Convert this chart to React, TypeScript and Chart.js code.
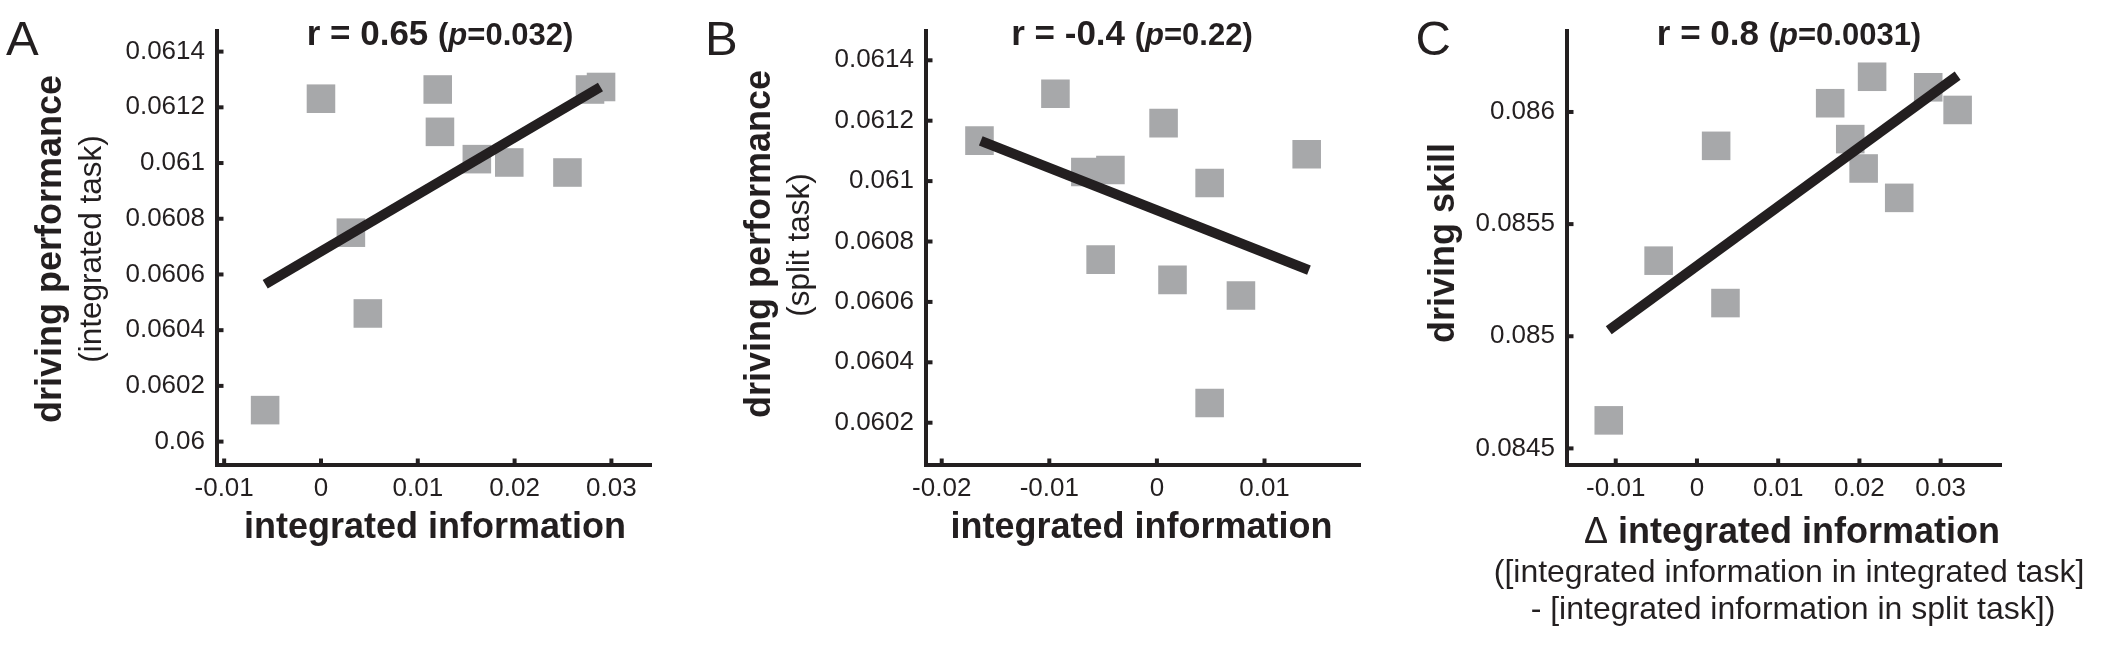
import React, { useEffect, useRef } from 'react';
import { Chart, registerables } from 'chart.js';

Chart.register(...registerables);

// ---------- data ----------
// Panel A: integrated task
const aIntegratedInfo = [0.0, 0.01206, 0.01229, 0.0161, 0.01945, 0.02546, 0.02779, 0.02893, 0.00309, 0.00484, -0.00577];
const aDrivingPerf = [0.061231, 0.061264, 0.061112, 0.061014, 0.061002, 0.060966, 0.061264, 0.061273, 0.06075, 0.06046, 0.060113];
const aFitX = [-0.00576, 0.02887];
const aFitY = [0.060565, 0.061273];
const aXTicks = [-0.01, 0, 0.01, 0.02, 0.03];
const aXTickLabels = ['-0.01', '0', '0.01', '0.02', '0.03'];
const aYTicks = [0.06, 0.0602, 0.0604, 0.0606, 0.0608, 0.061, 0.0612, 0.0614];
const aYTickLabels = ['0.06', '0.0602', '0.0604', '0.0606', '0.0608', '0.061', '0.0612', '0.0614'];

// Panel B: split task
const bIntegratedInfo = [-0.01649, -0.00943, 0.00062, -0.00665, -0.00432, 0.0049, 0.01392, -0.00523, 0.00145, 0.00781, 0.0049];
const bDrivingPerf = [0.061134, 0.061289, 0.061192, 0.06103, 0.061037, 0.060994, 0.061089, 0.06074, 0.060673, 0.060621, 0.060265];
const bFitX = [-0.01637, 0.01413];
const bFitY = [0.061133, 0.060705];
const bXTicks = [-0.02, -0.01, 0, 0.01];
const bXTickLabels = ['-0.02', '-0.01', '0', '0.01'];
const bYTicks = [0.0602, 0.0604, 0.0606, 0.0608, 0.061, 0.0612, 0.0614];
const bYTickLabels = ['0.0602', '0.0604', '0.0606', '0.0608', '0.061', '0.0612', '0.0614'];

// Panel C: delta integrated information vs driving skill
const cDeltaInfo = [-0.01086, -0.00472, 0.00236, 0.00351, 0.0164, 0.02156, 0.02847, 0.03209, 0.01887, 0.02052, 0.0249];
const cDrivingSkill = [0.084625, 0.085337, 0.085849, 0.085148, 0.086039, 0.086157, 0.08611, 0.086009, 0.085879, 0.085748, 0.085617];
const cFitX = [-0.01086, 0.03209];
const cFitY = [0.085027, 0.086162];
const cXTicks = [-0.01, 0, 0.01, 0.02, 0.03];
const cXTickLabels = ['-0.01', '0', '0.01', '0.02', '0.03'];
const cYTicks = [0.0845, 0.085, 0.0855, 0.086];
const cYTickLabels = ['0.0845', '0.085', '0.0855', '0.086'];

// ---------- styles ----------
const INK = '#231f20';
const GREY = '#a7a8aa';
const FAMILY = "'Liberation Sans', Arial, Helvetica, sans-serif";
const f = (size: number, weight = 'normal', style = 'normal') => `${style} ${weight} ${size}px ${FAMILY}`;

type Run = { text: string; font: string };

interface PanelCfg {
  left: number;
  width: number;
  axisLeft: number;
  axisRight: number;
  xMin: number; xMax: number; yMin: number; yMax: number;
  xs: number[]; ys: number[]; fitX: number[]; fitY: number[];
  xTicks: number[]; xTickLabels: string[]; yTicks: number[]; yTickLabels: string[];
  letter: string; letterX: number;
  title: Run[]; titleX: number;
  yLabels: { runs: Run[]; x: number; cy: number }[];
  xLabels: { runs: Run[]; cx: number; y: number }[];
}

const TOP = 31;
const BOTTOM = 465;
const H = 655;

const titleRuns = (r: string, p: string): Run[] => [
  { text: `r = ${r} `, font: f(35, 'bold') },
  { text: '(', font: f(31, 'bold') },
  { text: 'p', font: f(31, 'bold', 'italic') },
  { text: `=${p})`, font: f(31, 'bold') },
];

const panels: PanelCfg[] = [
  {
    left: 0, width: 700, axisLeft: 217, axisRight: 651,
    xMin: -0.01074, xMax: 0.03409, yMin: 0.059916, yMax: 0.061474,
    xs: aIntegratedInfo, ys: aDrivingPerf, fitX: aFitX, fitY: aFitY,
    xTicks: aXTicks, xTickLabels: aXTickLabels, yTicks: aYTicks, yTickLabels: aYTickLabels,
    letter: 'A', letterX: 6,
    title: titleRuns('0.65', '0.032'), titleX: 440,
    yLabels: [
      { runs: [{ text: 'driving performance', font: f(36, 'bold') }], x: 61, cy: 249 },
      { runs: [{ text: '(integrated task)', font: f(31.5) }], x: 100.5, cy: 249 },
    ],
    xLabels: [{ runs: [{ text: 'integrated information', font: f(36, 'bold') }], cx: 435, y: 538 }],
  },
  {
    left: 700, width: 700, axisLeft: 226, axisRight: 660.7,
    xMin: -0.02146, xMax: 0.01894, yMin: 0.06006, yMax: 0.061497,
    xs: bIntegratedInfo, ys: bDrivingPerf, fitX: bFitX, fitY: bFitY,
    xTicks: bXTicks, xTickLabels: bXTickLabels, yTicks: bYTicks, yTickLabels: bYTickLabels,
    letter: 'B', letterX: 5,
    title: titleRuns('-0.4', '0.22'), titleX: 432,
    yLabels: [
      { runs: [{ text: 'driving performance', font: f(36, 'bold') }], x: 70, cy: 244 },
      { runs: [{ text: '(split task)', font: f(31.5) }], x: 108.5, cy: 245 },
    ],
    xLabels: [{ runs: [{ text: 'integrated information', font: f(36, 'bold') }], cx: 441.5, y: 538 }],
  },
  {
    left: 1400, width: 701, axisLeft: 167, axisRight: 601,
    xMin: -0.016, xMax: 0.03743, yMin: 0.084426, yMax: 0.086361,
    xs: cDeltaInfo, ys: cDrivingSkill, fitX: cFitX, fitY: cFitY,
    xTicks: cXTicks, xTickLabels: cXTickLabels, yTicks: cYTicks, yTickLabels: cYTickLabels,
    letter: 'C', letterX: 15.5,
    title: titleRuns('0.8', '0.0031'), titleX: 389,
    yLabels: [{ runs: [{ text: 'driving skill', font: f(36, 'bold') }], x: 54, cy: 243 }],
    xLabels: [
      { runs: [{ text: '\u0394 ', font: f(36) }, { text: 'integrated information', font: f(36, 'bold') }], cx: 392, y: 543 },
      { runs: [{ text: '([integrated information in integrated task]', font: f(32) }], cx: 389, y: 582 },
      { runs: [{ text: '- [integrated information in split task])', font: f(32) }], cx: 393, y: 619 },
    ],
  },
];

function runsWidth(ctx: CanvasRenderingContext2D, runs: Run[]) {
  let w = 0;
  for (const r of runs) { ctx.font = r.font; w += ctx.measureText(r.text).width; }
  return w;
}

function drawRuns(ctx: CanvasRenderingContext2D, runs: Run[], cx: number, baseline: number) {
  const total = runsWidth(ctx, runs);
  let x = cx - total / 2;
  ctx.textAlign = 'left';
  ctx.textBaseline = 'alphabetic';
  for (const r of runs) {
    ctx.font = r.font;
    ctx.fillText(r.text, x, baseline);
    x += ctx.measureText(r.text).width;
  }
}

function makeDecor(cfg: PanelCfg) {
  return {
    id: 'decor' + cfg.letter,
    afterDraw(chart: any) {
      const ctx: CanvasRenderingContext2D = chart.ctx;
      const area = chart.chartArea;
      const xs = chart.scales.x;
      const ys = chart.scales.y;
      ctx.save();
      // inward tick marks
      ctx.strokeStyle = INK;
      ctx.lineWidth = 4;
      ctx.lineCap = 'butt';
      for (const t of xs.ticks) {
        const px = xs.getPixelForValue(t.value);
        ctx.beginPath();
        ctx.moveTo(px, area.bottom);
        ctx.lineTo(px, area.bottom - 6.5);
        ctx.stroke();
      }
      for (const t of ys.ticks) {
        const py = ys.getPixelForValue(t.value);
        ctx.beginPath();
        ctx.moveTo(area.left, py);
        ctx.lineTo(area.left + 6.5, py);
        ctx.stroke();
      }
      ctx.fillStyle = INK;
      // panel letter
      ctx.font = f(49);
      ctx.textAlign = 'left';
      ctx.textBaseline = 'alphabetic';
      ctx.fillText(cfg.letter, cfg.letterX, 55);
      // title
      drawRuns(ctx, cfg.title, cfg.titleX, 45);
      // y labels (rotated)
      for (const yl of cfg.yLabels) {
        ctx.save();
        ctx.translate(yl.x, yl.cy);
        ctx.rotate(-Math.PI / 2);
        drawRuns(ctx, yl.runs, 0, 0);
        ctx.restore();
      }
      // x labels
      for (const xl of cfg.xLabels) drawRuns(ctx, xl.runs, xl.cx, xl.y);
      ctx.restore();
    },
  };
}

function Panel({ cfg }: { cfg: PanelCfg }) {
  const ref = useRef<HTMLCanvasElement | null>(null);
  useEffect(() => {
    if (!ref.current) return;
    const points = cfg.xs.map((x, i) => ({ x, y: cfg.ys[i] }));
    const fit = cfg.fitX.map((x, i) => ({ x, y: cfg.fitY[i] }));
    const tickFont = { family: FAMILY, size: 26, weight: 'normal' as const };
    const chart = new Chart(ref.current, {
      type: 'scatter',
      data: {
        datasets: [
          {
            type: 'line',
            data: fit,
            borderColor: INK,
            borderWidth: 10,
            borderCapStyle: 'butt',
            pointRadius: 0,
            pointHoverRadius: 0,
            showLine: true,
            fill: false,
            tension: 0,
            order: 0,
          } as any,
          {
            type: 'scatter',
            data: points,
            pointStyle: 'rect',
            pointRadius: 20.2,
            pointHoverRadius: 20.2,
            pointBackgroundColor: GREY,
            pointBorderColor: GREY,
            pointBorderWidth: 0,
            pointHoverBorderWidth: 0,
            order: 1,
          } as any,
        ],
      },
      options: {
        animation: false,
        responsive: false,
        maintainAspectRatio: false,
        devicePixelRatio: 1,
        events: [],
        layout: { padding: { left: 0, top: TOP, right: cfg.width - cfg.axisRight, bottom: 0 } },
        plugins: { legend: { display: false }, tooltip: { enabled: false }, title: { display: false } },
        scales: {
          x: {
            type: 'linear',
            min: cfg.xMin,
            max: cfg.xMax,
            afterFit: (s: any) => { s.height = H - BOTTOM; },
            afterBuildTicks: (s: any) => { s.ticks = cfg.xTicks.map((v) => ({ value: v })); },
            ticks: {
              callback: (_v: any, i: number) => cfg.xTickLabels[i],
              font: tickFont,
              color: INK,
              padding: 8,
              autoSkip: false,
              maxRotation: 0,
              minRotation: 0,
            },
            grid: { display: false, drawTicks: false },
            border: { display: true, width: 4, color: INK },
          },
          y: {
            type: 'linear',
            min: cfg.yMin,
            max: cfg.yMax,
            afterFit: (s: any) => { s.width = cfg.axisLeft; },
            afterBuildTicks: (s: any) => { s.ticks = cfg.yTicks.map((v) => ({ value: v })); },
            ticks: {
              callback: (_v: any, i: number) => cfg.yTickLabels[i],
              font: tickFont,
              color: INK,
              padding: 12,
              autoSkip: false,
            },
            grid: { display: false, drawTicks: false },
            border: { display: true, width: 4, color: INK },
          },
        },
      } as any,
      plugins: [makeDecor(cfg)],
    });
    return () => chart.destroy();
  }, [cfg]);
  return (
    <canvas
      ref={ref}
      width={cfg.width}
      height={H}
      style={{ position: 'absolute', left: cfg.left, top: 0, width: cfg.width, height: H, display: 'block' }}
    />
  );
}

export default function App() {
  return (
    <div style={{ position: 'absolute', left: 0, top: 0, width: 2101, height: H, background: '#ffffff', overflow: 'hidden' }}>
      {panels.map((p) => (
        <Panel key={p.letter} cfg={p} />
      ))}
    </div>
  );
}
